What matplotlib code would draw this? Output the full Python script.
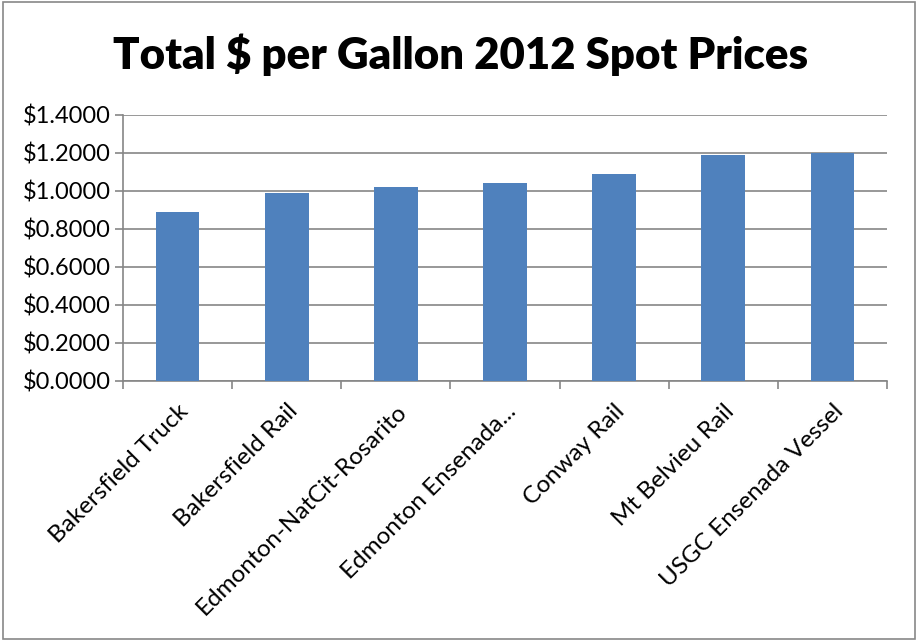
import numpy as np
import matplotlib
matplotlib.use("Agg")
import matplotlib.pyplot as plt
from matplotlib.ticker import FuncFormatter, MultipleLocator

plt.rcParams['font.family'] = ['Lato', 'DejaVu Sans']

categories = ["Bakersfield Truck", "Bakersfield Rail", "Edmonton-NatCit-Rosarito",
              "Edmonton Ensenada...", "Conway Rail", "Mt Belvieu Rail",
              "USGC Ensenada Vessel"]
prices = [0.888, 0.989, 1.023, 1.041, 1.087, 1.192, 1.198]

fig = plt.figure(figsize=(9.18, 6.41), dpi=100)
# outer chart border
fig.patches.append(plt.Rectangle((0.003, 0.003), 0.994, 0.994, transform=fig.transFigure,
                                 fill=False, edgecolor='#888888', linewidth=1.2))
ax = fig.add_axes([123 / 918, 1 - 381 / 641, (887 - 123) / 918, (381 - 115) / 641])

x = np.arange(len(categories))
ax.bar(x, prices, width=0.4, color='#4F81BD', zorder=3)

ax.set_xlim(-0.5, len(categories) - 0.5)
ax.set_ylim(0, 1.4)
ax.yaxis.set_major_locator(MultipleLocator(0.2))
ax.yaxis.set_major_formatter(FuncFormatter(lambda v, p: "${:.4f}".format(v)))
ax.grid(axis='y', color='#868686', linewidth=1.2, zorder=0)

ax.set_xticks(np.arange(len(categories) + 1) - 0.5, minor=False)
ax.set_xticklabels([])
ax.set_xticks(x, minor=True)
ax.set_xticklabels(categories, minor=True, rotation=45, ha='right', va='top',
                   rotation_mode='anchor', fontsize=17.5)
ax.tick_params(axis='x', which='minor', length=0, pad=14)
ax.tick_params(axis='x', which='major', length=6, color='#868686', width=1.2)
ax.tick_params(axis='y', length=6, color='#868686', width=1.2, labelsize=17, pad=3)

for side in ['top', 'right']:
    ax.spines[side].set_visible(False)
for side in ['left', 'bottom']:
    ax.spines[side].set_color('#868686')
    ax.spines[side].set_linewidth(1.2)

fig.text(0.502, 1 - 55 / 641, "Total $ per Gallon 2012 Spot Prices", ha='center',
         va='center', fontsize=31.5, fontweight='heavy')

fig.savefig("out.png", dpi=100)
